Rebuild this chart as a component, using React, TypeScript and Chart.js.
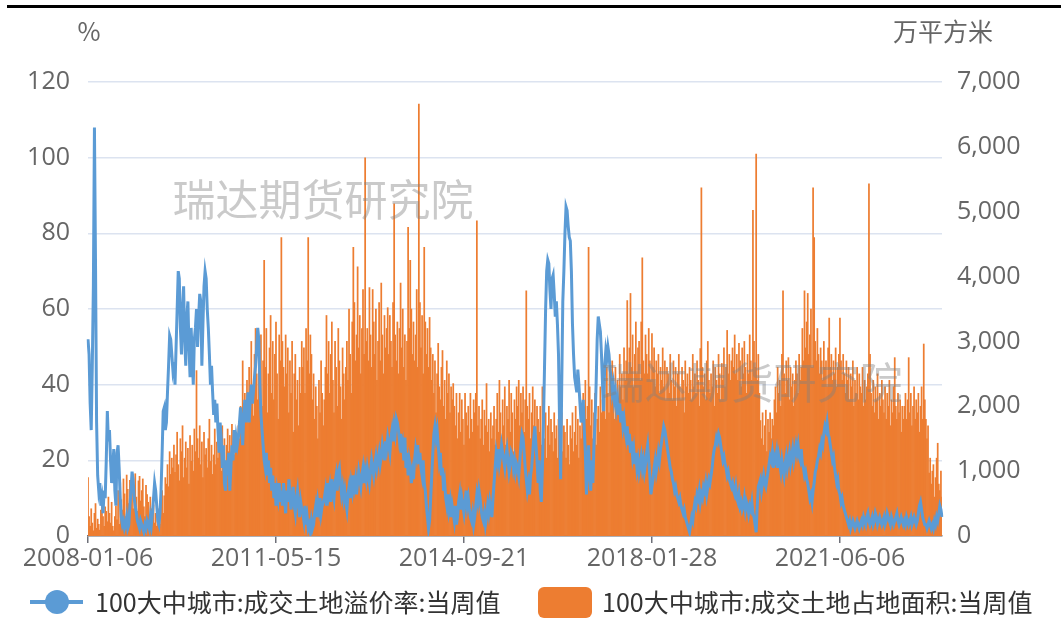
import React, { useEffect, useRef } from "react";
import { Chart, registerables } from "chart.js";

Chart.register(...registerables);

// ---------- data ----------
const START_DATE = "2008-01-06";
const TICK_LABELS = ["2008-01-06", "2011-05-15", "2014-09-21", "2018-01-28", "2021-06-06"];
const SERIES_NAMES = ["100大中城市:成交土地溢价率:当周值", "100大中城市:成交土地占地面积:当周值"];
const AXIS_TITLES = ["%", "万平方米"];
const WATERMARK = "瑞达期货研究院";

// 溢价率 (%) weekly
const premiumRate = [
  52, 48, 35, 28, 45, 66, 108, 72, 30, 16, 12, 14, 8, 10, 6, 12, 10, 20, 33, 25,
  28, 20, 14, 18, 23, 12, 8, 22, 24, 18, 10, 5, 3, 4, 2, 3, 5, 2, 3, 8,
  12, 17, 15, 10, 8, 6, 4, 3, 2, 4, 3, 2, 1, 3, 2, 4, 3, 2, 5, 3,
  6, 10, 14, 12, 8, 4, 3, 6, 12, 22, 33, 34, 28, 30, 38, 45, 53, 52, 48, 44,
  46, 40, 50, 60, 70, 68, 55, 48, 60, 66, 52, 45, 58, 62, 50, 42, 55, 48, 40, 52,
  55, 60, 50, 58, 64, 62, 45, 56, 66, 70, 68, 60, 55, 48, 40, 45, 38, 32, 36, 30,
  35, 28, 22, 30, 26, 18, 24, 14, 12, 20, 16, 22, 12, 18, 24, 20, 28, 22, 26, 24,
  26, 30, 34, 28, 24, 32, 36, 30, 34, 38, 30, 36, 40, 35, 38, 42, 45, 50, 55, 52,
  40, 32, 28, 24, 20, 18, 22, 16, 20, 14, 18, 12, 16, 10, 14, 8, 12, 10, 14, 9,
  12, 8, 14, 10, 6, 12, 9, 15, 11, 7, 10, 13, 8, 6, 10, 12, 8, 5, 9, 7,
  6, 4, 8, 3, 5, 2, 3, 1, 4, 2, 3, 6, 8, 5, 9, 7, 10, 6, 8, 9,
  10, 12, 8, 14, 11, 13, 9, 15, 12, 10, 14, 16, 12, 17, 18, 14, 11, 13, 10, 12,
  9, 7, 11, 13, 10, 14, 12, 16, 13, 15, 11, 14, 17, 15, 13, 16, 18, 14, 17, 15,
  18, 16, 14, 17, 20, 18, 16, 19, 21, 18, 20, 22, 19, 21, 24, 22, 20, 25, 23, 26,
  24, 22, 26, 28, 25, 29, 27, 31, 30, 28, 25, 27, 22, 24, 20, 26, 18, 22, 16, 20,
  18, 14, 17, 15, 20, 23, 21, 24, 19, 22, 18, 16, 20, 14, 12, 8, 5, 2, 4, 10,
  16, 22, 27, 29, 26, 28, 24, 20, 22, 16, 18, 12, 14, 10, 8, 11, 7, 9, 5, 8,
  6, 4, 8, 3, 5, 9, 11, 7, 10, 8, 6, 9, 12, 8, 10, 7, 5, 4, 6, 3,
  5, 8, 11, 9, 12, 10, 7, 5, 4, 6, 3, 5, 8, 6, 9, 7, 5, 10, 14, 18,
  22, 20, 23, 19, 21, 24, 22, 20, 18, 21, 23, 20, 17, 19, 22, 21, 18, 20, 17, 19,
  18, 16, 20, 24, 27, 26, 22, 18, 15, 12, 14, 11, 16, 18, 22, 26, 29, 24, 20, 14,
  20, 12, 9, 18, 30, 45, 60, 70, 73, 72, 65, 60, 68, 69, 64, 58, 62, 56, 48, 30,
  15, 40, 62, 70, 80, 87, 86, 82, 79, 78, 70, 56, 48, 42, 40, 38, 44, 40, 35, 30,
  32, 36, 28, 22, 11, 18, 24, 16, 12, 20, 14, 24, 30, 40, 52, 58, 56, 54, 48, 40,
  33, 45, 49, 47, 50, 48, 44, 42, 38, 40, 36, 38, 34, 36, 32, 35, 30, 33, 29, 31,
  28, 26, 29, 24, 27, 22, 25, 21, 23, 19, 22, 18, 20, 17, 19, 21, 18, 20, 17, 19,
  22, 24, 20, 16, 11, 13, 15, 18, 20, 17, 19, 22, 20, 23, 25, 27, 29, 28, 26, 24,
  22, 20, 18, 17, 15, 14, 12, 13, 11, 10, 9, 10, 8, 7, 6, 7, 5, 4, 3, 2,
  1, 3, 5, 4, 7, 9, 8, 11, 10, 12, 9, 11, 10, 13, 12, 14, 11, 13, 15, 14,
  16, 18, 21, 23, 24, 26, 25, 27, 26, 24, 22, 20, 21, 19, 18, 16, 17, 15, 14, 13,
  14, 12, 11, 13, 10, 9, 11, 8, 9, 7, 8, 10, 7, 9, 8, 6, 8, 7, 9, 6,
  5, 3, 1, 8, 13, 14, 15, 12, 14, 16, 14, 13, 15, 17, 19, 21, 20, 22, 18, 21,
  20, 22, 18, 21, 19, 17, 20, 18, 16, 19, 21, 18, 20, 22, 19, 21, 23, 20, 22, 24,
  22, 24, 21, 20, 23, 19, 18, 16, 17, 15, 14, 12, 10, 11, 9, 12, 14, 17, 18, 20,
  21, 23, 22, 25, 24, 27, 29, 28, 30, 27, 26, 24, 22, 20, 21, 18, 16, 14, 15, 12,
  11, 9, 10, 8, 7, 6, 5, 4, 3, 4, 2, 3, 4, 3, 2, 3, 4, 3, 2, 3,
  4, 3, 5, 4, 3, 5, 6, 4, 3, 4, 5, 3, 4, 6, 5, 3, 4, 5, 4, 3,
  4, 5, 3, 4, 6, 5, 4, 3, 5, 4, 3, 4, 5, 6, 4, 3, 4, 5, 4, 3,
  4, 3, 5, 4, 3, 4, 5, 3, 4, 5, 4, 3, 4, 6, 8, 9, 7, 5, 4, 3,
  3, 2, 3, 4, 3, 2, 3, 2, 4, 3, 5, 4, 6, 8, 7, 5,
];

// 占地面积 (万平方米) weekly
const landArea = [
  900, 300, 150, 420, 200, 80, 350, 500, 120, 260, 180, 90, 400, 620, 300, 150, 450, 380, 220, 600,
  350, 200, 520, 150, 80, 300, 460, 250, 700, 180, 820, 560, 400, 880, 650, 300, 940, 720, 500, 860,
  680, 900, 420, 750, 960, 600, 380, 850, 920, 540, 700, 880, 450, 300, 780, 640, 520, 250, 600, 420,
  300, 480, 200, 350, 150, 420, 260, 180, 500, 700, 350, 620, 900, 800, 1100, 760, 1300, 950, 1200, 1050,
  1400, 980, 1250, 1600, 1100, 850, 1500, 1300, 1700, 900, 1200, 1450, 1050, 1350, 800, 1550, 1150, 1400, 1000, 1650,
  1300, 2550, 1500, 1200, 1700, 1100, 1450, 900, 1600, 1250, 1350, 1050, 1500, 1800, 1150, 1400, 950, 1250, 1650, 1100,
  1450, 1200, 1600, 1350, 1000, 1700, 1250, 1500, 1100, 1400, 1650, 1300, 1550, 1150, 1720, 1400, 1250, 1600, 1350, 1500,
  1700, 1500, 2000, 1800, 2700, 1600, 2200, 1900, 2400, 1750, 2600, 2100, 3000, 2300, 1850, 2800, 3200, 2500, 2100, 2900,
  2400, 3100, 2000, 2700, 4250, 2600, 3200, 1900, 2500, 2900, 3400, 2200, 3000, 2100, 2800, 3300, 2500, 1800, 3100, 2700,
  4600, 3000, 2600, 2300, 3100, 2500, 2900, 1900, 2700, 2200, 3000, 1600, 2500, 2800, 2100, 2400, 1700, 2600, 2200, 3000,
  2600, 2900, 2200, 3200, 2700, 4600, 2500, 3100, 2800, 2100, 2500, 1800, 2300, 2000, 1500, 2400, 1900, 2700, 2200, 1700,
  2100, 2600, 3400, 2500, 3000, 2200, 2800, 3300, 2400, 1900, 3000, 2600, 2000, 3200, 2700, 2300, 1800, 2900, 2500, 2100,
  2600, 3000, 2400, 3500, 2800, 2200, 3300, 4450, 3600, 2700, 3100, 4150, 2900, 3400, 2500, 3200, 3800, 2800, 5830, 3000,
  3200, 2700, 3830, 3100, 2600, 3800, 3300, 2800, 3500, 2400, 3000, 3600, 2700, 3900, 3100, 2500, 3400, 2900, 3200, 3520,
  2800, 3400, 3000, 2600, 3600, 5120, 3100, 2700, 3300, 2500, 3200, 3900, 2900, 3500, 2600, 3100, 2400, 3000, 4760, 3200,
  4250, 3500, 2800, 3300, 2700, 3100, 3800, 2600, 6660, 3600, 2900, 3400, 2500, 4450, 3300, 2800, 3200, 2600, 3370, 2900,
  2400, 2800, 2200, 2700, 1900, 2500, 2970, 2300, 2100, 2600, 2860, 2000, 2400, 1800, 2700, 2200, 2500, 1900, 2300, 2100,
  2350, 2000, 1700, 2200, 1500, 1900, 2200, 1600, 2100, 1800, 1400, 2200, 1900, 1700, 2000, 1500, 2200, 1800, 1600, 2100,
  1900, 2200, 4860, 1700, 2000, 1500, 1800, 2100, 1400, 1940, 1700, 2350, 1600, 1800, 1300, 1900, 1500, 1700, 2000, 1400,
  1800, 2200, 1600, 2400, 1900, 1500, 2100, 1700, 2300, 1400, 2000, 1800, 2400, 1600, 2200, 1900, 1300, 2100, 1800, 2300,
  2000, 2400, 1700, 2200, 1900, 2300, 1600, 2100, 3780, 2000, 1800, 2200, 1500, 1900, 2300, 1700, 2100, 1400, 2000, 1800,
  1600, 2000, 1400, 2300, 1800, 1500, 1900, 1200, 1700, 2000, 1400, 1800, 1600, 1300, 1900, 1500, 1700, 1200, 1800, 1600,
  1500, 1900, 1300, 1700, 1600, 1200, 1800, 1400, 1100, 1700, 1500, 1900, 1300, 1600, 2000, 1400, 1800, 1200, 1700, 1500,
  1900, 2200, 1600, 2400, 1800, 2000, 4450, 2300, 1700, 2100, 1500, 1900, 2200, 1400, 1800, 2000, 1600, 2300, 1900, 2100,
  2000, 2400, 1800, 2600, 2200, 1900, 2500, 2100, 2700, 2300, 1800, 2600, 2200, 2400, 2000, 2800, 2300, 2500, 2100, 2900,
  2400, 2700, 3630, 2500, 2900, 3740, 2600, 3100, 2300, 2800, 3300, 2500, 2900, 3000, 2400, 3300, 4290, 2700, 2500, 3100,
  2800, 2500, 3200, 2700, 2400, 3120, 2600, 2900, 2300, 2700, 2500, 2800, 2200, 2600, 2400, 2900, 2300, 2700, 2100, 2600,
  2500, 2200, 2800, 2400, 2100, 2700, 2300, 2600, 2000, 2500, 2800, 2300, 2100, 2600, 2400, 1900, 2700, 2300, 2500, 2200,
  2600, 2400, 2100, 2800, 2300, 2500, 2200, 2700, 2400, 2000, 2890, 5370, 2600, 2300, 2500, 2100, 2700, 3000, 2400, 2200,
  2500, 2300, 2700, 2000, 2600, 2400, 2200, 2800, 2500, 2100, 2660, 2400, 2900, 2300, 2600, 3170, 2500, 2800, 2400, 2700,
  2900, 2600, 3100, 2500, 2800, 2400, 2970, 2700, 2300, 2900, 2500, 3000, 2600, 2200, 2800, 2500, 3100, 2700, 2400, 5020,
  3000, 2600, 5890, 2400, 2800, 2200, 1780, 1500, 1900, 1400, 1700, 1940, 1300, 1800, 1600, 1900, 1500, 1800, 1700, 2100,
  2300, 1900, 2600, 2200, 2400, 2000, 2800, 3780, 2500, 2200, 2700, 2400, 2750, 2100, 2600, 2300, 2500, 2000, 2400, 2700,
  2500, 2200, 2800, 2400, 2600, 3200, 2700, 3780, 2900, 3300, 3740, 2800, 3100, 3500, 2600, 5370, 4600, 3000, 2700, 3200,
  2800, 2500, 2900, 2700, 2400, 3000, 2600, 2700, 2300, 2900, 3360, 2600, 2800, 2400, 2700, 2500, 2900, 2300, 2600, 2800,
  3360, 2700, 2400, 2800, 2500, 2200, 2700, 2400, 2600, 2100, 2500, 2300, 2700, 2000, 2400, 2200, 2600, 2100, 2500, 2300,
  2200, 2600, 2000, 2400, 2100, 2300, 2500, 5430, 2800, 2200, 2000, 2400, 1900, 2300, 2100, 2500, 1800, 2200, 2000, 2400,
  2100, 1900, 2300, 1800, 2200, 2000, 2400, 1700, 2100, 1900, 2300, 2750, 2000, 1800, 2200, 1900, 2100, 1600, 2000, 1800,
  2000, 2200, 1800, 2100, 2750, 1900, 2200, 1700, 2000, 2300, 1800, 2100, 1900, 2200, 1600, 2000, 2300, 1800, 2960, 2100,
  1800, 1500, 1700, 970, 1200, 800, 1000, 1100, 600, 900, 1200, 1430, 800, 700, 1000, 600,
];

// weekly category labels starting at START_DATE
function weeklyLabels(start: string, n: number): string[] {
  const base = new Date(start + "T00:00:00Z").getTime();
  const out: string[] = [];
  for (let i = 0; i < n; i++) {
    const d = new Date(base + i * 7 * 86400000);
    const mm = String(d.getUTCMonth() + 1).padStart(2, "0");
    const dd = String(d.getUTCDate()).padStart(2, "0");
    out.push(`${d.getUTCFullYear()}-${mm}-${dd}`);
  }
  return out;
}

const FONT = '"Open Sans", "Noto Sans CJK SC", sans-serif';
const CJK_FONT = '"Noto Sans CJK SC", "Open Sans", sans-serif';
const BLUE = "#5B9BD5";
const ORANGE = "#ED7D31";
const TICK_COLOR = "#666666";

export default function App() {
  const canvasRef = useRef<HTMLCanvasElement | null>(null);

  useEffect(() => {
    const canvas = canvasRef.current;
    if (!canvas) return;
    const n = Math.max(premiumRate.length, landArea.length);
    const labels = weeklyLabels(START_DATE, n);
    const tickIdx = TICK_LABELS.map((t) => labels.indexOf(t)).filter((i) => i >= 0);

    const overlay = {
      id: "overlay",
      afterDatasetsDraw(chart: any) {
        const ctx = chart.ctx;
        ctx.save();
        ctx.font = `43px ${CJK_FONT}`;
        ctx.fillStyle = "rgba(128,128,128,0.42)";
        ctx.textAlign = "center";
        ctx.textBaseline = "middle";
        ctx.fillText(WATERMARK, 323, 200);
        ctx.fillText(WATERMARK, 752, 383);
        ctx.restore();
      },
      afterDraw(chart: any) {
        const ctx = chart.ctx;
        ctx.save();
        // axis titles
        ctx.fillStyle = TICK_COLOR;
        ctx.textBaseline = "middle";
        ctx.textAlign = "center";
        ctx.font = `25px ${CJK_FONT}`;
        ctx.fillText(AXIS_TITLES[0], 89, 31);
        ctx.fillText(AXIS_TITLES[1], 943, 31);
        // legend
        const ly = 602;
        ctx.strokeStyle = BLUE;
        ctx.lineWidth = 4;
        ctx.beginPath();
        ctx.moveTo(30, ly);
        ctx.lineTo(83, ly);
        ctx.stroke();
        ctx.fillStyle = BLUE;
        ctx.beginPath();
        ctx.arc(57, ly, 12, 0, Math.PI * 2);
        ctx.fill();
        ctx.fillStyle = ORANGE;
        ctx.beginPath();
        (ctx as any).roundRect(538, 587, 54, 31, 6);
        ctx.fill();
        ctx.fillStyle = "#333333";
        ctx.textAlign = "left";
        ctx.font = `25px ${CJK_FONT}`;
        ctx.fillText(SERIES_NAMES[0], 95, ly);
        ctx.fillText(SERIES_NAMES[1], 602, ly);
        ctx.restore();
      },
    };

    const chart = new Chart(canvas, {
      type: "bar",
      data: {
        labels,
        datasets: [
          {
            type: "line",
            label: SERIES_NAMES[0],
            data: premiumRate,
            yAxisID: "y",
            borderColor: BLUE,
            backgroundColor: BLUE,
            borderWidth: 3,
            pointRadius: 0,
            tension: 0,
            order: 0,
          } as any,
          {
            type: "bar",
            label: SERIES_NAMES[1],
            data: landArea,
            yAxisID: "y1",
            backgroundColor: ORANGE,
            borderWidth: 0,
            barPercentage: 1,
            categoryPercentage: 1,
            order: 1,
          },
        ],
      },
      options: {
        responsive: false,
        animation: false,
        locale: "en-US",
        layout: { padding: { left: 0, right: 0, top: 82, bottom: 51 } },
        plugins: { legend: { display: false }, tooltip: { enabled: false } },
        scales: {
          x: {
            type: "category",
            offset: false,
            grid: {
              display: true,
              offset: false,
              drawOnChartArea: false,
              drawTicks: true,
              tickLength: 7,
              tickColor: "#6e7079",
              lineWidth: 1.5,
            },
            border: { color: "#6e7079", width: 1.5 },
            ticks: {
              autoSkip: false,
              maxRotation: 0,
              color: TICK_COLOR,
              font: { size: 25, family: FONT },
              padding: 1,
              callback: function (this: any, v: any) {
                return this.getLabelForValue(v);
              },
            },
            afterBuildTicks: (s: any) => {
              s.ticks = tickIdx.map((v) => ({ value: v }));
            },
            afterFit: (s: any) => {
              s.height = 50;
            },
          },
          y: {
            position: "left",
            min: 0,
            max: 120,
            ticks: { stepSize: 20, color: TICK_COLOR, font: { size: 25, family: FONT }, padding: 18 },
            grid: { color: "#dce3f0", drawTicks: false, lineWidth: 1.5 },
            border: { display: false },
            afterFit: (s: any) => {
              s.width = 88;
            },
          },
          y1: {
            position: "right",
            min: 0,
            max: 7000,
            ticks: { stepSize: 1000, color: TICK_COLOR, font: { size: 25, family: FONT }, padding: 15 },
            grid: { display: false, drawTicks: false },
            border: { display: false },
            afterFit: (s: any) => {
              s.width = 119;
            },
          },
        },
      },
      plugins: [overlay],
    });
    return () => chart.destroy();
  }, []);

  return (
    <div style={{ position: "fixed", left: 0, top: 0, width: 1061, height: 637, background: "#fff" }}>
      <div style={{ position: "absolute", left: 7, top: 5, width: 1054, height: 3, background: "#000" }} />
      <canvas ref={canvasRef} width={1061} height={637} style={{ display: "block", width: 1061, height: 637 }} />
    </div>
  );
}
